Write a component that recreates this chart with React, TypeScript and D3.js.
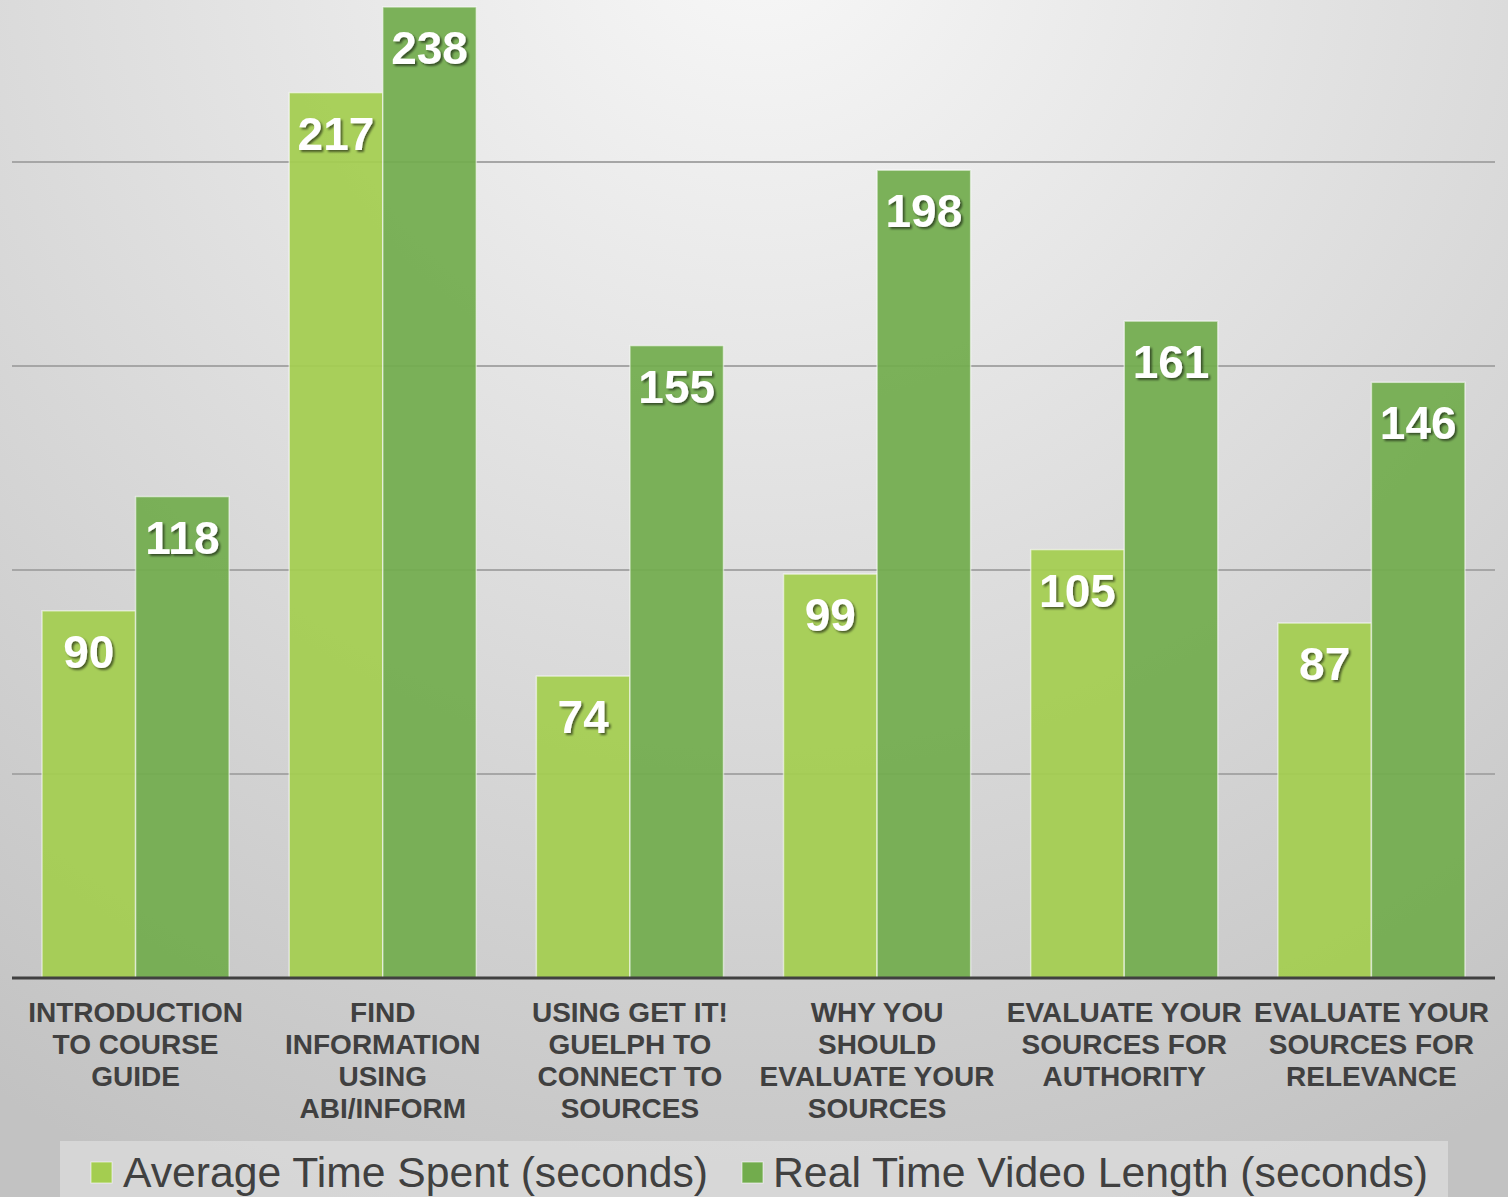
import React from "react";
import * as d3 from "d3";

const categories: string[][] = [
  ["INTRODUCTION", "TO COURSE", "GUIDE"],
  ["FIND", "INFORMATION", "USING", "ABI/INFORM"],
  ["USING GET IT!", "GUELPH TO", "CONNECT TO", "SOURCES"],
  ["WHY YOU", "SHOULD", "EVALUATE YOUR", "SOURCES"],
  ["EVALUATE YOUR", "SOURCES FOR", "AUTHORITY"],
  ["EVALUATE YOUR", "SOURCES FOR", "RELEVANCE"],
];
const averageTime = [90, 217, 74, 99, 105, 87];
const videoLength = [118, 238, 155, 198, 161, 146];
const seriesNames = ["Average Time Spent (seconds)", "Real Time Video Length (seconds)"];
const gridTicks = [50, 100, 150, 200];

const W = 1508;
const H = 1197;
const colors = ["#a4cd50", "#72ac4d"];

export default function App() {
  const left = 12, right = 1495, baseY = 978;
  const x = d3.scaleBand<number>().domain(d3.range(categories.length)).range([left, right]).paddingInner(0.243).paddingOuter(0.1215);
  const xs = d3.scaleBand<number>().domain([0, 1]).range([0, x.bandwidth()]);
  const y = d3.scaleLinear().domain([0, 250]).range([baseY, baseY - 1020]);
  const series = [averageTime, videoLength];
  const step = x.step();

  return (
    <svg width={W} height={H} style={{ position: "absolute", left: 0, top: 0 }} fontFamily="'Liberation Sans', Arial, sans-serif">
      <defs>
        <radialGradient id="bg" gradientUnits="userSpaceOnUse" cx={760} cy={-80} r={1400}>
          <stop offset="0" stopColor="#f8f8f8" />
          <stop offset="1" stopColor="#c2c2c2" />
        </radialGradient>
        <filter id="sh" x="-20%" y="-20%" width="140%" height="140%">
          <feDropShadow dx="2" dy="2" stdDeviation="1.2" floodColor="#000" floodOpacity="0.55" />
        </filter>
      </defs>
      <rect x={0} y={0} width={W} height={H} fill="url(#bg)" />
      {gridTicks.map((t) => (
        <line key={t} x1={left} x2={right} y1={y(t)} y2={y(t)} stroke="#a6a6a6" strokeWidth={2} />
      ))}
      {categories.map((c, i) =>
        series.map((s, j) => {
          const bx = (x(i) as number) + (xs(j) as number);
          const bw = xs.bandwidth();
          return (
            <g key={`${i}-${j}`}>
              <rect x={bx} y={y(s[i])} width={bw} height={baseY - y(s[i])} fill={colors[j]} fillOpacity={0.93} stroke="rgba(255,255,255,0.55)" strokeWidth={1.5} />
              <text x={bx + bw / 2} y={y(s[i]) + 57} textAnchor="middle" fill="#fff" fontWeight="bold" fontSize={46} filter="url(#sh)">
                {s[i]}
              </text>
            </g>
          );
        })
      )}
      <line x1={left} x2={right} y1={baseY} y2={baseY} stroke="#404040" strokeWidth={3} />
      {categories.map((lines, i) => (
        <text key={i} textAnchor="middle" fill="#404040" fontWeight="bold" fontSize={28}>
          {lines.map((l, k) => (
            <tspan key={k} x={left + step * (i + 0.5)} y={1022 + k * 32}>
              {l}
            </tspan>
          ))}
        </text>
      ))}
      <rect x={60} y={1141} width={1388} height={60} fill="#dcdcdc" fillOpacity={0.75} />
      {seriesNames.map((n, j) => {
        const sx = j === 0 ? 91 : 742;
        const tx = j === 0 ? 123 : 773;
        const tl = j === 0 ? 585 : 655;
        return (
          <g key={n}>
            <rect x={sx} y={1162} width={21} height={21} fill={colors[j]} stroke="rgba(255,255,255,0.6)" strokeWidth={1} />
            <text x={tx} y={1187} fontSize={43} fill="#404040" fontFamily="'Liberation Sans Narrow', 'Liberation Sans', Arial, sans-serif" textLength={tl} lengthAdjust="spacingAndGlyphs">
              {n}
            </text>
          </g>
        );
      })}
    </svg>
  );
}
